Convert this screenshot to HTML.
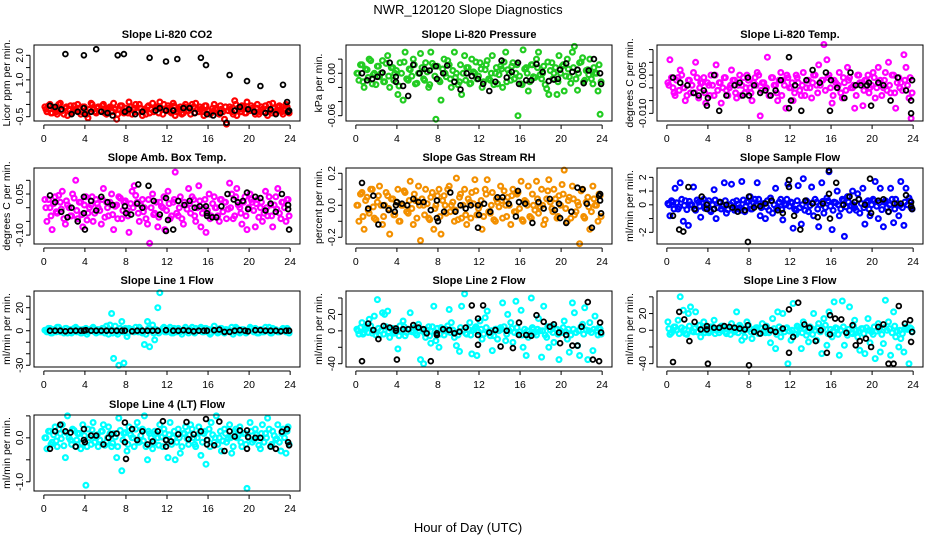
<!DOCTYPE html>
<html><head><meta charset="utf-8"><style>
html,body{margin:0;padding:0;background:#fff;}
svg{display:block;font-family:"Liberation Sans",Arial,sans-serif;}
</style></head><body>
<svg id="chart" width="936" height="540" viewBox="0 0 936 540" xmlns="http://www.w3.org/2000/svg">
<text x="468" y="14" text-anchor="middle" font-size="13">NWR_120120  Slope Diagnostics</text>
<text x="468" y="532" text-anchor="middle" font-size="13">Hour of Day (UTC)</text>
</svg>
<script>
const hours = [0.1,0.3,0.6,0.8,1.1,1.3,1.6,1.8,2.1,2.3,2.6,2.8,3.1,3.3,3.6,3.8,4.1,4.3,4.6,4.8,5.1,5.3,5.6,5.8,6.1,6.3,6.6,6.8,7.1,7.3,7.6,7.8,8.1,8.3,8.6,8.8,9.1,9.3,9.6,9.8,10.1,10.3,10.6,10.8,11.1,11.3,11.6,11.8,12.1,12.3,12.6,12.8,13.1,13.3,13.6,13.8,14.1,14.3,14.6,14.8,15.1,15.3,15.6,15.8,16.1,16.3,16.6,16.8,17.1,17.3,17.6,17.8,18.1,18.3,18.6,18.8,19.1,19.3,19.6,19.8,20.1,20.3,20.6,20.8,21.1,21.3,21.6,21.8,22.1,22.3,22.6,22.8,23.1,23.3,23.6,23.8];
const hours2 = [0.2,0.45,0.7,0.95,1.2,1.45,1.7,1.95,2.2,2.45,2.7,2.95,3.2,3.45,3.7,3.95,4.2,4.45,4.7,4.95,5.2,5.45,5.7,5.95,6.2,6.45,6.7,6.95,7.2,7.45,7.7,7.95,8.2,8.45,8.7,8.95,9.2,9.45,9.7,9.95,10.2,10.45,10.7,10.95,11.2,11.45,11.7,11.95,12.2,12.45,12.7,12.95,13.2,13.45,13.7,13.95,14.2,14.45,14.7,14.95,15.2,15.45,15.7,15.95,16.2,16.45,16.7,16.95,17.2,17.45,17.7,17.95,18.2,18.45,18.7,18.95,19.2,19.45,19.7,19.95,20.2,20.45,20.7,20.95,21.2,21.45,21.7,21.95,22.2,22.45,22.7,22.95,23.2,23.45,23.7,23.9];
const xTicks = [0,4,8,12,16,20,24];

const co2Vals = [-0.1,-0.3,0.0,-0.35,-0.2,-0.4,0.05,-0.25,-0.15,-0.45,-0.05,-0.3,-0.2,0.0,-0.4,-0.1,-0.3,-0.55,0.05,-0.2,-0.35,-0.1,-0.25,0.0,-0.4,-0.15,-0.3,0.05,-0.6,-0.2,-0.05,-0.35,-0.25,0.1,-0.4,-0.15,-0.3,0.0,-0.45,-0.2,-0.1,-0.35,0.05,-0.25,-0.15,0.1,-0.4,-0.2,-0.05,-0.3,0.05,-0.45,-0.2,-0.1,-0.35,0.0,-0.25,-0.4,-0.1,0.05,-0.3,-0.2,-0.45,-0.05,-0.25,-0.35,0.0,-0.15,-0.4,-0.2,-0.6,-0.8,-0.1,-0.3,0.15,-0.45,-0.2,-0.05,-0.35,0.1,-0.25,-0.15,-0.4,0.0,-0.3,-0.2,-0.05,-0.45,-0.25,0.05,-0.35,-0.1,-0.2,-0.4,0.0,-0.3];
const co2Band = [-0.2,-0.05,-0.35,-0.15,-0.3,0.0,-0.25,-0.4,-0.1,-0.2,-0.35,-0.05,-0.25,-0.15,-0.3,-0.1,-0.4,-0.2,0.0,-0.3,-0.15,-0.25,-0.05,-0.35,-0.2,-0.1,-0.3,-0.2,-0.4,-0.05,-0.25,-0.15,-0.35,-0.1,-0.2,0.0,-0.3,-0.15,-0.25,-0.4,-0.05,-0.2,-0.3,-0.1,-0.35,-0.2,0.0,-0.25,-0.15,-0.35,-0.05,-0.3,-0.2,-0.4,-0.1,-0.25,-0.15,0.0,-0.35,-0.2,-0.1,-0.3,-0.05,-0.25,-0.4,-0.15,-0.2,-0.35,-0.05,-0.3,-0.1,-0.25,-0.2,-0.4,0.0,-0.15,-0.3,-0.1,-0.35,-0.2,-0.05,-0.25,-0.15,-0.4,-0.1,-0.3,-0.2,0.0,-0.35,-0.15,-0.25,-0.05,-0.3,-0.2,-0.1,-0.35];
const co2BlackX = [0.6,1.1,1.7,2.1,2.7,3.3,3.9,3.9,4.0,4.6,5.1,5.6,6.2,6.7,7.2,7.8,7.9,8.3,8.9,9.6,10.3,10.9,11.3,11.9,11.9,12.6,13.0,13.6,14.2,14.7,15.3,15.8,15.9,16.5,17.2,17.8,18.1,18.6,19.1,19.8,19.9,20.5,21.1,21.6,22.1,22.6,23.3,23.7,23.8,23.9];
const co2BlackY = [-0.05,-0.1,-0.2,2.05,-0.4,-0.3,2.0,-0.15,-0.4,-0.3,2.25,-0.3,-0.35,-0.45,2.0,2.05,-0.3,-0.2,-0.4,-0.3,1.9,-0.25,-0.15,1.75,-0.25,-0.25,1.85,-0.15,-0.15,-0.35,1.9,1.6,-0.4,-0.45,-0.35,-0.75,1.2,-0.25,-0.1,0.95,-0.2,-0.3,0.75,-0.35,-0.2,-0.4,0.8,0.1,-0.3,-0.25];

const presVals = [0.0,-0.01,0.012,-0.02,0.005,0.02,-0.015,0.0,0.01,-0.005,0.018,-0.012,0.025,-0.02,0.008,0.0,-0.03,0.015,-0.038,0.03,-0.01,0.005,0.02,-0.015,0.0,0.028,-0.008,0.015,-0.02,0.03,0.01,-0.065,-0.01,-0.038,0.02,-0.005,0.012,-0.02,0.03,0.0,-0.012,-0.03,0.025,0.008,-0.015,0.02,0.0,-0.008,0.015,-0.02,0.005,0.018,-0.01,0.025,0.0,-0.015,0.01,-0.02,0.03,0.005,-0.01,0.015,0.0,-0.06,-0.015,0.033,0.008,-0.025,0.012,-0.005,0.02,0.03,-0.008,0.01,-0.022,-0.03,0.015,0.0,-0.03,0.025,0.01,-0.025,0.02,-0.005,0.03,0.038,-0.024,0.015,0.022,-0.01,0.005,0.02,-0.015,0.0,-0.025,-0.058];
const presBand = [0.0,0.012,-0.012,0.006,-0.006,0.018,-0.002,-0.016,0.01,0.0,-0.012,0.014,-0.004,0.008,-0.01,0.004,-0.018,0.0,0.016,-0.008,0.006,-0.004,0.012,-0.014,0.0,0.008,-0.01,0.002,-0.016,0.014,-0.004,0.01,-0.012,0.006,0.0,0.018,-0.008,0.004,-0.006,-0.016,0.012,0.0,-0.01,0.008,-0.014,0.002,0.016,-0.004,0.006,-0.012,0.012,-0.008,0.0,-0.016,0.008,-0.002,0.006,0.016,-0.012,0.0,0.01,-0.008,0.012,-0.004,-0.016,0.006,0.0,-0.012,0.012,-0.006,0.008,-0.002,0.0,-0.016,0.016,0.004,-0.008,0.008,-0.012,0.0,0.012,-0.004,0.006,-0.014,0.008,-0.008,0.0,0.016,-0.012,0.004,-0.002,-0.008,0.008,0.0,0.012,-0.012];
const presBlackX = [0.6,1.1,1.6,2.1,2.6,3.3,3.9,3.9,4.6,5.1,5.6,6.2,6.7,7.2,7.8,7.9,8.5,8.9,9.6,10.2,10.8,11.3,11.9,12.4,13,13.6,14.2,14.7,15.2,15.8,15.9,16.6,17.1,17.6,18.2,18.8,19.3,19.7,19.9,20.5,21.1,21.6,22.2,22.7,23.2,23.8,23.9];
const presBlackY = [0.0,-0.01,-0.008,-0.005,0.001,0.015,-0.005,-0.012,-0.018,-0.032,0.012,0.0,0.006,0.004,0.01,-0.008,0.0,0.011,-0.012,-0.023,0.0,-0.004,-0.008,-0.015,-0.025,-0.012,0.018,-0.006,0.002,0.015,-0.015,-0.01,-0.01,0.013,0.002,-0.011,-0.009,-0.008,0.005,0.014,0.002,0.005,-0.014,0.004,0.02,0.0,-0.015];

const tempVals = [0.002,0.011,0.0,-0.003,0.004,0.007,0.0,-0.005,0.003,-0.002,0.006,0.01,-0.004,0.002,0.004,-0.006,0.001,0.005,-0.003,0.009,0.002,-0.006,0.004,-0.001,0.0,0.007,0.003,-0.004,0.005,0.001,-0.002,0.005,0.0,-0.005,0.004,0.006,-0.011,0.002,0.0,0.012,-0.003,0.004,0.001,-0.005,0.006,0.003,-0.008,0.004,0.0,-0.005,0.005,0.002,-0.003,0.006,0.0,0.003,-0.004,0.005,0.001,0.009,0.003,0.017,0.011,0.005,-0.006,0.003,0.0,0.006,-0.004,0.002,0.008,0.004,0.0,-0.008,0.005,0.002,-0.007,0.003,0.005,0.0,0.006,-0.004,0.008,0.003,0.0,0.006,0.01,-0.002,0.005,-0.008,0.004,0.002,0.013,0.008,-0.004,-0.012];
const tempBand = [0.001,0.004,-0.002,0.003,-0.001,0.005,0.0,-0.003,0.003,0.001,-0.002,0.004,0.0,0.002,-0.002,0.002,-0.003,0.001,0.005,-0.001,0.002,0.0,0.004,-0.003,0.001,0.003,-0.002,0.001,-0.003,0.004,0.0,0.003,-0.002,0.002,0.001,0.005,-0.001,0.002,0.0,-0.003,0.004,0.001,-0.002,0.003,-0.003,0.001,0.005,0.0,0.002,-0.002,0.004,-0.001,0.001,-0.003,0.003,0.0,0.002,0.005,-0.002,0.001,0.003,-0.001,0.004,0.0,-0.003,0.002,0.001,-0.002,0.004,-0.001,0.003,0.0,0.001,-0.003,0.005,0.002,-0.001,0.003,-0.002,0.001,0.004,0.0,0.002,-0.003,0.003,-0.001,0.001,0.005,-0.002,0.002,0.0,-0.001,0.003,0.001,0.004,-0.002];
const tempBlackX = [0.6,1.3,2.0,2.6,3.1,3.6,3.9,4.0,4.6,5.1,5.8,6.6,7.1,7.4,7.9,8.0,8.5,9.1,9.6,10.1,10.6,11.1,11.9,11.9,12.1,12.5,13.1,13.6,14.2,14.9,15.5,15.9,16,16.6,17.3,17.9,18.4,18.9,19.5,19.7,19.9,20.6,21.1,21.8,22.5,23.3,23.8,23.9,23.8];
const tempBlackY = [0.004,0.002,0.001,-0.002,-0.003,-0.001,-0.007,-0.004,0.005,-0.009,-0.003,0.001,0.002,-0.003,0.004,-0.003,0.001,-0.002,-0.001,-0.003,-0.001,0.003,0.012,-0.008,-0.005,0.001,-0.009,0.003,0.007,0.002,0.006,-0.009,0.003,0.0,-0.004,0.006,0.001,0.001,0.001,0.002,-0.007,0.002,0.001,-0.005,0.004,-0.001,-0.010,0.003,-0.005];

const ambVals = [0.03,-0.05,0.0,-0.08,0.04,-0.02,0.02,0.06,-0.06,0.01,-0.03,0.05,0.1,-0.04,0.02,-0.07,0.04,-0.02,0.01,-0.05,0.03,0.0,-0.06,0.07,0.02,-0.03,0.05,-0.08,0.01,0.04,-0.04,0.02,-0.01,-0.09,0.06,0.08,0.02,-0.05,0.03,0.0,-0.06,-0.13,0.05,-0.02,-0.07,0.02,0.0,-0.08,0.06,-0.04,0.02,0.13,-0.03,0.04,-0.06,0.01,0.07,-0.02,0.03,-0.05,0.08,-0.07,0.0,-0.09,0.05,-0.03,0.04,0.0,-0.05,0.03,0.02,-0.04,0.09,0.05,-0.03,0.07,0.0,-0.06,0.04,-0.08,0.05,0.02,-0.07,0.03,0.0,-0.05,0.06,-0.03,0.01,-0.07,0.04,0.07,-0.04,0.02,-0.05,0.03];
const ambBand = [0.0,0.03,-0.03,0.015,-0.015,0.045,-0.005,-0.04,0.025,0.0,-0.03,0.035,-0.01,0.02,-0.025,0.01,-0.045,0.0,0.04,-0.02,0.015,-0.01,0.03,-0.035,0.0,0.02,-0.025,0.005,-0.04,0.035,-0.01,0.025,-0.03,0.015,0.0,0.045,-0.02,0.01,-0.015,-0.04,0.03,0.0,-0.025,0.02,-0.035,0.005,0.04,-0.01,0.015,-0.03,0.03,-0.02,0.0,-0.04,0.02,-0.005,0.015,0.04,-0.03,0.0,0.025,-0.02,0.03,-0.01,-0.04,0.015,0.0,-0.03,0.03,-0.015,0.02,-0.005,0.0,-0.04,0.04,0.01,-0.02,0.02,-0.03,0.0,0.03,-0.01,0.015,-0.035,0.02,-0.02,0.0,0.04,-0.03,0.01,-0.005,-0.02,0.02,0.0,0.03,-0.03];
const ambBlackX = [0.6,1.1,1.7,2.3,2.7,3.3,3.9,3.9,4.0,4.6,5.1,5.6,6.2,6.7,9.2,7.9,8.0,8.5,9.1,9.6,10.2,10.7,11.3,11.9,11.9,12.1,12.6,13.1,13.7,14.2,14.7,15.2,15.8,15.9,15.9,16.4,16.8,17.3,17.9,18.5,18.9,19.4,19.8,19.9,20.6,21.1,21.6,22.1,22.6,23.2,23.8,23.9,23.8];
const ambBlackY = [0.045,0.02,-0.015,-0.035,0.0,-0.05,-0.02,0.04,-0.08,0.025,-0.01,0.04,0.02,0.01,0.085,0.005,-0.02,-0.025,0.015,0.0,0.08,0.025,-0.025,-0.085,0.035,-0.045,-0.08,0.025,0.01,0.025,0.0,0.005,0.005,-0.02,-0.03,-0.035,-0.035,0.005,0.05,0.03,0.02,0.025,0.055,-0.005,0.04,0.035,-0.01,0.015,-0.015,0.05,0.01,-0.08,-0.005];

const rhVals = [0.0,-0.1,0.08,-0.15,0.05,-0.05,0.1,-0.08,0.02,0.12,-0.12,0.0,0.06,-0.18,0.04,-0.06,0.1,-0.1,0.0,0.08,-0.05,0.15,-0.12,0.03,0.12,-0.22,0.0,0.1,-0.08,0.05,-0.15,0.0,0.1,-0.18,0.06,-0.05,0.12,0.0,-0.1,0.17,0.05,-0.08,0.1,-0.12,0.02,0.08,0.16,-0.06,0.0,-0.15,0.1,0.16,-0.05,0.08,-0.1,0.02,0.12,-0.08,0.0,0.05,-0.12,0.1,-0.04,0.08,0.15,-0.1,0.02,0.12,-0.08,0.0,0.15,-0.05,0.1,-0.12,0.04,0.16,-0.02,0.1,-0.08,0.06,0.13,0.22,-0.1,0.05,0.12,-0.06,0.02,-0.24,0.1,-0.08,0.05,-0.15,0.12,0.0,-0.1,0.06];
const rhBand = [0.0,0.07,-0.07,0.03,-0.03,0.1,-0.01,-0.09,0.06,0.0,-0.07,0.08,-0.02,0.04,-0.06,0.02,-0.1,0.0,0.09,-0.04,0.03,-0.02,0.07,-0.08,0.0,0.04,-0.06,0.01,-0.09,0.08,-0.02,0.06,-0.07,0.03,0.0,0.1,-0.04,0.02,-0.03,-0.09,0.07,0.0,-0.06,0.04,-0.08,0.01,0.09,-0.02,0.03,-0.07,0.07,-0.04,0.0,-0.09,0.04,-0.01,0.03,0.09,-0.07,0.0,0.06,-0.04,0.07,-0.02,-0.09,0.03,0.0,-0.07,0.07,-0.03,0.04,-0.01,0.0,-0.09,0.09,0.02,-0.04,0.04,-0.07,0.0,0.07,-0.02,0.03,-0.08,0.04,-0.04,0.0,0.09,-0.07,0.02,-0.01,-0.04,0.04,0.0,0.07,-0.07];
const rhBlackX = [0.6,1.2,1.7,2.2,2.7,3.2,3.8,3.9,4.0,4.5,5.0,5.6,6.1,6.6,7.3,7.9,7.9,8.0,8.6,9.2,9.7,10.2,10.7,11.2,11.9,11.9,12.0,12.5,13.1,13.8,14.3,14.9,15.6,15.8,15.9,16.5,17.2,17.8,18.3,18.9,19.4,19.8,19.9,20.5,21.0,21.6,22.1,22.5,23.0,23.7,23.9,23.8,23.8];
const rhBlackY = [0.14,-0.02,0.06,-0.12,0.0,-0.03,-0.04,0.0,0.02,0.01,0.0,0.04,0.02,0.02,-0.03,0.03,-0.08,-0.1,-0.04,0.08,-0.04,0.0,-0.02,0.0,-0.14,0.0,-0.06,0.01,-0.04,0.05,0.05,0.01,-0.07,0.09,0.02,0.01,-0.11,0.02,-0.02,0.04,-0.03,0.01,-0.08,-0.11,-0.04,0.11,0.1,0.01,-0.14,0.06,-0.05,0.07,0.03];

const flowVals = [0.1,-0.8,0.2,1.2,-0.3,1.6,-1.2,0.3,-1.5,0.0,1.3,-0.4,0.2,-0.9,0.4,-0.2,0.3,-0.5,1.1,-1.0,0.2,-0.3,1.6,-0.6,0.0,1.5,-0.4,0.3,-0.2,1.7,-0.5,0.2,0.6,-0.3,0.4,1.6,-0.8,0.0,-1.0,0.3,0.5,-0.6,1.2,-0.2,0.4,-1.1,0.0,1.5,0.2,-1.7,-0.4,1.4,-1.4,1.9,0.3,-0.5,1.3,-0.8,0.2,-1.6,1.6,-0.6,0.5,2.4,-1.8,0.2,1.0,-0.8,0.4,-2.3,0.6,-0.4,1.0,-0.2,0.8,-0.6,1.2,-1.4,0.3,-0.8,0.4,1.7,-1.0,1.2,-1.6,0.3,-0.5,1.2,-1.3,0.4,-0.8,1.7,-1.5,1.2,0.5,-0.2];
const flowBand = [0.0,0.3,-0.3,0.15,-0.15,0.4,-0.05,-0.35,0.25,0.0,-0.3,0.35,-0.1,0.2,-0.25,0.1,-0.4,0.0,0.35,-0.2,0.15,-0.1,0.3,-0.35,0.0,0.2,-0.25,0.05,-0.4,0.35,-0.1,0.25,-0.3,0.15,0.0,0.4,-0.2,0.1,-0.15,-0.4,0.3,0.0,-0.25,0.2,-0.35,0.05,0.4,-0.1,0.15,-0.3,0.3,-0.2,0.0,-0.4,0.2,-0.05,0.15,0.4,-0.3,0.0,0.25,-0.2,0.3,-0.1,-0.4,0.15,0.0,-0.3,0.3,-0.15,0.2,-0.05,0.0,-0.4,0.4,0.1,-0.2,0.2,-0.3,0.0,0.3,-0.1,0.15,-0.35,0.2,-0.2,0.0,0.4,-0.3,0.1,-0.05,-0.2,0.2,0.0,0.3,-0.3];
const flowBlackX = [0.6,1.2,1.6,2.1,2.7,3.4,3.9,3.9,4.6,5.2,5.8,6.4,6.9,7.6,7.9,8.0,8.5,9.1,9.6,10.2,10.8,11.3,11.9,11.9,12.4,13.0,13.5,14.2,14.7,15.2,15.8,15.8,15.9,16.5,17.2,17.8,18.3,18.7,19.3,19.8,19.9,20.6,21.1,21.6,22.2,22.8,23.3,23.8,23.9,23.8];
const flowBlackY = [-0.8,-1.8,-1.95,1.3,-0.3,0.6,-0.3,0.0,-0.3,0.2,0.0,-0.2,-0.5,-0.4,-2.7,0.6,-0.2,-0.1,0.1,0.3,-0.4,-0.6,1.8,1.3,-0.8,-1.8,0.3,0.1,-0.9,0.1,2.5,0.8,-1.0,1.6,0.0,0.6,0.2,0.4,0.0,1.9,-0.6,0.3,0.4,-0.5,0.1,0.1,0.7,0.2,-0.3,-0.1];

const line1Vals = [0.5,-1,2,-2,1,3,-1,0,2,-2,1,-1,3,0,-2,1,2,-1,0,3,-2,1,-1,2,4,-3,15,-24,-1,-30,8,-28,-5,2,1,-1,0,3,-2,-12,8,-14,5,-8,20,33,2,-1,0,3,-2,1,2,-1,0,3,-2,1,-1,2,0,3,-1,2,1,-2,4,0,-1,2,-2,1,0,3,-1,2,-2,1,0,-1,3,0,2,-2,1,-1,3,0,-2,2,1,-1,0,2,-1,1];
const line1Band = [0,2,-2,1,-1,3,0,-2,2,0,-2,2,-1,1,-2,1,-3,0,2,-1,1,-1,2,-2,0,5,-2,4,-3,2,-1,2,-2,1,0,3,-1,1,-1,-3,2,0,-2,1,-2,0,3,-1,1,-2,2,-1,0,-3,1,0,1,3,-2,0,2,-1,2,-1,-3,1,0,-2,2,-1,1,0,0,-3,3,1,-1,1,-2,0,2,-1,1,-2,1,-1,0,3,-2,1,0,-1,1,0,2,-2];
const line1BlackX = [0.6,1.1,1.6,2.1,2.6,3.1,3.6,3.9,4.1,4.6,5.1,5.6,6.1,6.6,7.1,7.6,7.9,8.6,9.1,9.6,10.1,10.6,11.1,11.9,12.6,13.1,13.6,14.1,14.6,15.1,15.6,15.9,16.6,17.1,17.6,18.1,18.6,19.1,19.6,19.9,20.6,21.1,21.6,22.1,22.6,23.1,23.6,23.9];
const line1BlackY = [0,0,0,-0.5,0,0,0,0,0.5,0,0,0,0,0,0,0,0,-0.5,0,0,0,0,0,0.5,0,0,0.5,0,-0.5,0,0,0,0.5,1,-1,-1,0,0.5,0,-0.5,0.5,0.5,0,0,0,-0.5,0,0];

const line2Vals = [2,-4,10,-2,5,14,-3,18,38,-5,22,20,24,-8,3,-2,-22,6,12,-6,2,22,0,-3,8,-35,-40,-8,5,-15,30,-12,-20,4,-5,2,26,10,-8,-18,-25,30,45,-4,10,-28,3,-30,12,-10,16,24,-6,-24,2,-10,4,34,-12,20,10,-14,36,-4,25,-20,-30,-8,40,2,-5,15,-32,30,-8,-20,6,-14,2,-35,-2,12,-10,-26,34,22,-18,-30,8,28,-35,10,-24,18,-5,2];
const line2Band = [0,4,-4,2,-2,6,0,-5,3,0,-4,5,-1,2,-3,1,-6,0,5,-2,2,-1,4,-5,0,2,-3,1,-6,5,-1,3,-4,2,0,6,-2,1,-2,-5,4,0,-3,2,-5,1,5,-1,2,-4,4,-2,0,-6,2,0,2,5,-4,0,3,-2,4,-1,-5,2,0,-4,4,-2,2,0,0,-5,5,1,-2,2,-4,0,4,-1,2,-5,2,-2,0,5,-4,1,0,-2,2,0,4,-4];
const line2BlackX = [0.6,1.2,1.7,2.2,2.7,3.3,3.9,3.9,4.0,4.6,5.1,5.6,6.1,6.6,6.9,7.3,7.9,7.9,8.5,9.1,9.6,10.1,10.7,11.3,11.9,11.9,11.9,12.4,13.0,13.6,14.1,14.7,15.3,15.9,15.9,16.6,17.1,17.6,18.3,18.9,19.3,19.8,19.9,20.5,21.1,21.6,22.0,22.6,23.1,23.7,23.8,23.9];
const line2BlackY = [-37,9,1,-10,6,4,3,0,-35,2,2,7,4,2,-3,-37,-5,-3,2,1,-3,-1,4,31,-17,15,-5,31,-2,1,-19,0,-21,10,-5,-5,-6,19,11,5,8,-2,-15,-5,-18,-18,5,35,-35,-37,10,-2];

const line3Vals = [10,-5,0,4,12,40,24,-4,20,28,-2,22,6,-8,10,0,-3,4,12,0,-3,5,2,-4,0,8,-2,22,6,-12,-8,10,2,-10,1,3,-4,8,-3,2,-15,14,-22,22,-8,20,2,-40,-12,32,-5,4,-22,10,-6,-14,2,20,-12,8,-28,14,-18,22,-8,34,2,-30,35,-18,-6,28,-4,12,-8,-24,2,-28,14,-15,-5,-34,8,-26,-16,36,10,-30,22,-8,-20,-10,-26,4,-40,2];
const line3Band = [2,-3,4,0,-4,3,1,-5,5,-1,2,-2,6,0,-3,3,-1,4,-4,1,0,5,-2,2,-5,3,0,-3,4,-1,1,6,-2,0,3,-4,2,-1,5,-3,0,2,-5,4,1,-2,3,-1,0,-4,5,2,-3,1,-1,4,-5,0,3,-2,2,6,-4,1,-1,3,-5,0,4,-2,1,-3,5,0,-1,2,-4,3,0,-2,4,-1,1,-5,3,0,2,-3,5,-1,0,-4,2,1,3,-2];
const line3BlackX = [0.6,1.2,1.7,2.2,2.7,3.3,3.9,3.9,4.0,4.6,5.1,5.6,6.1,6.6,7.1,7.6,7.9,8.0,8.5,9.1,9.6,10.1,10.6,11.3,11.9,11.9,12.3,12.8,13.4,13.9,14.5,15.0,15.6,15.9,15.9,16.4,17.0,17.5,18.1,18.4,18.8,19.4,19.9,20.6,21.1,21.6,22.1,22.6,23.2,23.7,23.8,23.9];
const line3BlackY = [-38,22,13,-13,10,1,1,5,-40,3,3,5,4,3,2,1,6,-42,-2,-4,4,0,-2,2,-27,25,-8,33,7,3,-13,0,-27,18,-5,14,13,-3,6,-18,-13,-10,-20,4,7,-40,-40,29,8,12,-14,-2];

const line4Vals = [0.0,-0.25,0.15,-0.1,0.25,-0.2,0.1,0.3,-0.45,0.5,-0.05,0.2,-0.2,0.1,-0.25,0.3,-1.08,0.2,-0.15,0.35,0.0,-0.2,0.15,0.3,-0.1,0.25,-0.2,0.1,-0.45,0.45,-0.75,0.1,-0.3,0.25,0.0,-0.2,0.35,-0.1,0.2,0.5,-0.5,0.1,-0.25,0.15,0.0,0.3,-0.2,0.1,-0.45,0.35,0.0,-0.5,0.2,-0.35,0.1,0.25,-0.15,0.3,0.0,-0.2,0.25,-0.4,0.1,-0.6,0.2,0.35,-0.1,0.5,0.0,-0.3,0.2,-0.1,0.3,-0.35,0.15,0.0,0.25,-0.2,0.1,-1.15,0.35,-0.1,0.2,0.0,-0.25,0.3,0.1,0.45,-0.2,0.15,-0.05,0.3,-0.3,0.2,-0.35,0.25];
const line4Band = [0.0,0.15,-0.15,0.07,-0.07,0.2,-0.02,-0.18,0.12,0.0,-0.15,0.17,-0.05,0.1,-0.12,0.05,-0.2,0.0,0.18,-0.1,0.07,-0.05,0.15,-0.17,0.0,0.1,-0.12,0.02,-0.2,0.17,-0.05,0.12,-0.15,0.07,0.0,0.2,-0.1,0.05,-0.07,-0.2,0.15,0.0,-0.12,0.1,-0.17,0.02,0.2,-0.05,0.07,-0.15,0.15,-0.1,0.0,-0.2,0.1,-0.02,0.07,0.2,-0.15,0.0,0.12,-0.1,0.15,-0.05,-0.2,0.07,0.0,-0.15,0.15,-0.07,0.1,-0.02,0.0,-0.2,0.2,0.05,-0.1,0.1,-0.15,0.0,0.15,-0.05,0.07,-0.17,0.1,-0.1,0.0,0.2,-0.15,0.05,-0.02,-0.1,0.1,0.0,0.15,-0.15];
const line4BlackX = [0.6,1.1,1.6,2.1,2.6,3.1,3.9,3.9,4.0,4.6,5.1,5.8,6.3,6.6,7.1,7.9,7.9,8.0,8.6,9.1,9.6,10.1,10.6,11.1,11.6,11.9,11.9,12.4,13.1,13.9,14.1,14.6,15.3,15.8,15.9,15.9,16.6,17.1,17.6,18.1,18.6,19.1,19.8,19.8,19.9,20.6,21.1,22.1,22.6,23.2,23.7,23.8,23.9];
const line4BlackY = [-0.25,0.15,0.3,0.15,0.12,-0.2,0.2,-0.05,-0.1,0.05,0.05,-0.15,0.0,0.08,0.1,-0.1,0.35,-0.48,0.2,-0.05,0.15,-0.15,-0.08,0.15,0.38,-0.05,-0.2,-0.08,0.08,0.36,-0.03,0.08,0.15,0.43,-0.05,-0.15,-0.17,0.37,-0.3,0.15,0.03,0.17,0.17,-0.25,0.02,0.0,0.0,-0.2,-0.25,0.14,0.2,-0.1,-0.17];

const panels = [
 {name:'co2',title:'Slope Li-820 CO2',ylab:'Licor ppm per min.',col:0,row:0,ymin:-0.675,ymax:2.42,ticks:[-0.5,0,0.5,1,1.5,2],labels:{'-0.5':'-0.5','1':'1.0','2':'2.0'},color:'#ff0000',vals:co2Vals,band:co2Band,bx:co2BlackX,by:co2BlackY},
 {name:'pressure',title:'Slope Li-820 Pressure',ylab:'kPa per min.',col:1,row:0,ymin:-0.0675,ymax:0.040,ticks:[-0.06,-0.04,-0.02,0,0.02],labels:{'0':'0.00','-0.06':'-0.06'},color:'#22cc22',vals:presVals,band:presBand,bx:presBlackX,by:presBlackY},
 {name:'temp',title:'Slope Li-820 Temp.',ylab:'degrees C per min.',col:2,row:0,ymin:-0.013,ymax:0.0168,ticks:[-0.01,-0.005,0,0.005,0.01,0.015],labels:{'0.005':'0.005','-0.01':'-0.010'},color:'#ff00ff',vals:tempVals,band:tempBand,bx:tempBlackX,by:tempBlackY},
 {name:'amb-box-temp',title:'Slope Amb. Box Temp.',ylab:'degrees C per min.',col:0,row:1,ymin:-0.1325,ymax:0.145,ticks:[-0.1,-0.05,0,0.05,0.1],labels:{'0.05':'0.05','-0.1':'-0.10'},color:'#ff00ff',vals:ambVals,band:ambBand,bx:ambBlackX,by:ambBlackY},
 {name:'gas-stream-rh',title:'Slope Gas Stream RH',ylab:'percent per min.',col:1,row:1,ymin:-0.242,ymax:0.233,ticks:[-0.2,-0.1,0,0.1,0.2],labels:{'-0.2':'-0.2','0':'0.0','0.2':'0.2'},color:'#f39000',vals:rhVals,band:rhBand,bx:rhBlackX,by:rhBlackY},
 {name:'sample-flow',title:'Slope Sample Flow',ylab:'ml/min per min.',col:2,row:1,ymin:-2.85,ymax:2.68,ticks:[-2,-1,0,1,2],labels:{'-2':'-2','0':'0','1':'1','2':'2'},color:'#0000ff',vals:flowVals,band:flowBand,bx:flowBlackX,by:flowBlackY},
 {name:'line1-flow',title:'Slope Line 1 Flow',ylab:'ml/min per min.',col:0,row:2,ymin:-31.5,ymax:34.5,ticks:[-30,-20,-10,0,10,20,30],labels:{'-30':'-30','0':'0','20':'20'},color:'#00ffff',vals:line1Vals,band:line1Band,bx:line1BlackX,by:line1BlackY},
 {name:'line2-flow',title:'Slope Line 2 Flow',ylab:'ml/min per min.',col:1,row:2,ymin:-44,ymax:48.5,ticks:[-40,-20,0,20,40],labels:{'-40':'-40','0':'0','20':'20'},color:'#00ffff',vals:line2Vals,band:line2Band,bx:line2BlackX,by:line2BlackY},
 {name:'line3-flow',title:'Slope Line 3 Flow',ylab:'ml/min per min.',col:2,row:2,ymin:-44,ymax:47,ticks:[-40,-20,0,20,40],labels:{'-40':'-40','0':'0','20':'20'},color:'#00ffff',vals:line3Vals,band:line3Band,bx:line3BlackX,by:line3BlackY},
 {name:'line4-lt-flow',title:'Slope Line 4 (LT) Flow',ylab:'ml/min per min.',col:0,row:3,ymin:-1.21,ymax:0.52,ticks:[-1,-0.5,0,0.5],labels:{'-1':'-1.0','0':'0.0'},color:'#00ffff',vals:line4Vals,band:line4Band,bx:line4BlackX,by:line4BlackY}
];

const NS='http://www.w3.org/2000/svg';
const svg=document.getElementById('chart');
const colLeft=[34,346,657], rowTop=[45,168,291,415], W=266, Hh=76;
function mk(tag,attrs,parent){const e=document.createElementNS(NS,tag);for(const k in attrs)e.setAttribute(k,attrs[k]);parent.appendChild(e);return e;}

panels.forEach(p=>{
  const L=colLeft[p.col], T=rowTop[p.row], R=L+W, B=T+Hh;
  const xs=v=>L+(v+0.96)/25.92*W;
  const ys=v=>B-(v-p.ymin)/(p.ymax-p.ymin)*Hh;
  const g=mk('g',{},svg);
  
  
  const t=mk('text',{x:(L+R)/2,y:T-7,'text-anchor':'middle','font-size':'11','font-weight':'bold'},g);
  t.textContent=p.title;
  
  
  const yl=mk('text',{transform:`translate(${L-24},${(T+B)/2}) rotate(-90)`,'text-anchor':'middle','font-size':'10.5'},g);
  yl.textContent=p.ylab;
  
  
  const pts=mk('g',{},g);
  
  
  const nb=Math.min(hours2.length,p.band.length);
  for(let i=0;i<nb;i++){
    const c=mk('circle',{cx:xs(hours2[i]).toFixed(1),cy:ys(p.band[i]).toFixed(1),r:2.4,fill:'none',stroke:p.color,'stroke-width':2.2},pts);
    
    
  }
  const n=Math.min(hours.length,p.vals.length);
  for(let i=0;i<n;i++){
    const c=mk('circle',{cx:xs(hours[i]).toFixed(1),cy:ys(p.vals[i]).toFixed(1),r:2.4,fill:'none',stroke:p.color,'stroke-width':2.2},pts);
    
    
  }
  const m=Math.min(p.bx.length,p.by.length);
  for(let i=0;i<m;i++){
    const c=mk('circle',{cx:xs(p.bx[i]).toFixed(1),cy:ys(p.by[i]).toFixed(1),r:2.4,fill:'none',stroke:'#000','stroke-width':1.8},pts);
    
    
  }
  const box=mk('rect',{x:L,y:T,width:W,height:Hh,fill:'none',stroke:'#000','stroke-width':1},g);
  
  
  const xa=mk('g',{},g);
  
  
  mk('line',{x1:xs(xTicks[0]),x2:xs(xTicks[xTicks.length-1]),y1:B+4,y2:B+4,stroke:'#000'},xa);
  xTicks.forEach(v=>{
    mk('line',{x1:xs(v),x2:xs(v),y1:B+4,y2:B+8,stroke:'#000'},xa);
    const lt=mk('text',{x:xs(v),y:B+21,'text-anchor':'middle','font-size':'10.5'},xa);
    lt.textContent=v;
  });
  const ya=mk('g',{},g);
  
  
  mk('line',{x1:L-4,x2:L-4,y1:ys(p.ticks[0]),y2:ys(p.ticks[p.ticks.length-1]),stroke:'#000'},ya);
  p.ticks.forEach(v=>{
    mk('line',{x1:L-8,x2:L-4,y1:ys(v),y2:ys(v),stroke:'#000'},ya);
    const lab=p.labels[String(v)];
    if(lab!==undefined){
      const lt=mk('text',{transform:`translate(${L-11},${ys(v)}) rotate(-90)`,'text-anchor':'middle','font-size':'10.5'},ya);
      lt.textContent=lab;
    }
  });
});
</script>
</body></html>
